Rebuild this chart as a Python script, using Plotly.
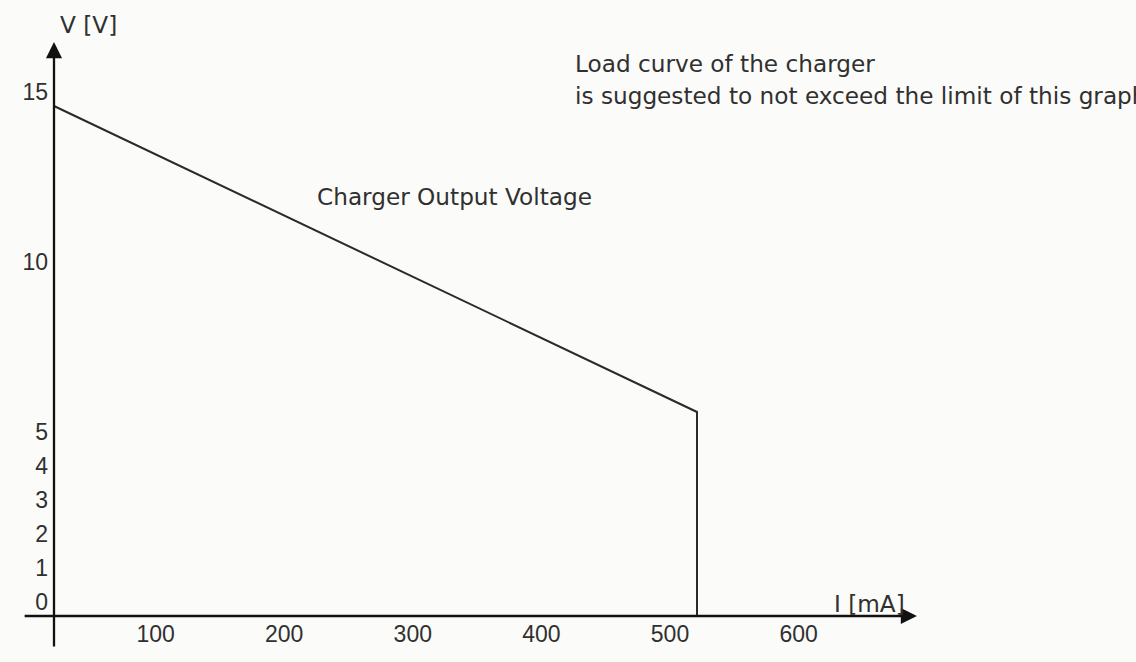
import plotly.graph_objects as go

# ---- data ----
current_mA = [0, 500, 500]
voltage_V = [15, 6, 0]

x_tick_vals = [100, 200, 300, 400, 500, 600]
x_tick_text = ["100", "200", "300", "400", "500", "600"]
y_tick_vals = [0, 1, 2, 3, 4, 5, 10, 15]
y_tick_text = ["0", "1", "2", "3", "4", "5", "10", "15"]

x_axis_span = [-24, 671]      # drawn extent of the I axis arrow (mA)
y_axis_span = [-0.94, 16.88]  # drawn extent of the V axis arrow (V)

# ---- layout geometry ----
W, H = 1136, 662
x0_px, px_per_mA = 54, 1.286
y0_px, px_per_V = 616, 34.0
x_range = [-x0_px / px_per_mA, (W - x0_px) / px_per_mA]
y_range = [-(H - y0_px) / px_per_V, y0_px / px_per_V]

BG = "#fbfbf9"
INK = "#2a2a2a"
TEXT_FONT = dict(family="DejaVu Sans", size=23.2, color="#303030")
TICK_FONT = dict(family="Liberation Sans, Arial", size=23, color="#303030")

fig = go.Figure()
fig.add_trace(go.Scatter(
    x=current_mA, y=voltage_V, mode="lines",
    line=dict(color=INK, width=2), hoverinfo="skip", showlegend=False,
))

fig.update_layout(
    width=W, height=H,
    margin=dict(l=0, r=0, t=0, b=0),
    paper_bgcolor=BG, plot_bgcolor=BG,
    showlegend=False,
    xaxis=dict(
        range=x_range, domain=[0, 1], anchor="free",
        position=(H - y0_px) / H,
        showgrid=False, zeroline=False, showline=False, ticks="",
        tickvals=x_tick_vals, ticktext=x_tick_text, tickfont=TICK_FONT,
        ticklabelshift=-27, ticklabelstandoff=2, automargin=False,
    ),
    yaxis=dict(
        range=y_range, domain=[0, 1], anchor="free",
        position=x0_px / W,
        showgrid=False, zeroline=False, showline=False, ticks="",
        tickvals=y_tick_vals, ticktext=y_tick_text, tickfont=TICK_FONT,
        ticklabelshift=-14, ticklabelstandoff=6, automargin=False,
    ),
)

# axis arrows
fig.add_annotation(x=x_axis_span[1], y=0, ax=x_axis_span[0], ay=0,
                   xref="x", yref="y", axref="x", ayref="y",
                   showarrow=True, arrowhead=2, arrowsize=1.4, arrowwidth=2.3,
                   arrowcolor="#111111", text="")
fig.add_annotation(x=0, y=y_axis_span[1], ax=0, ay=y_axis_span[0],
                   xref="x", yref="y", axref="x", ayref="y",
                   showarrow=True, arrowhead=2, arrowsize=1.4, arrowwidth=2.3,
                   arrowcolor="#111111", text="")

# texts
labels = [
    ("V [V]", 3.1, 17.4),
    ("I [mA]", 605, 0.38),
    ("Charger Output Voltage", 203.0, 12.35),
    ("Load curve of the charger", 403.5, 16.26),
    ("is suggested to not exceed the limit of this graph", 403.5, 15.30),
]
for txt, xv, yv in labels:
    fig.add_annotation(x=xv, y=yv, xref="x", yref="y", text=txt,
                       showarrow=False, xanchor="left", yanchor="middle",
                       font=TEXT_FONT)

fig.write_html(
    "out.html",
    config={"displayModeBar": False},
    post_script="document.body.style.margin='0px';document.body.style.overflow='hidden';",
)
